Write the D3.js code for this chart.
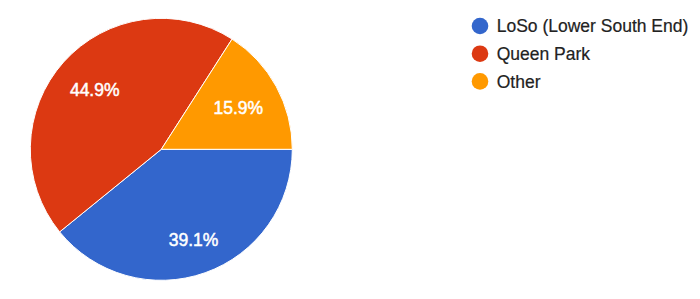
<!DOCTYPE html>
<html>
<head>
<meta charset="utf-8">
<script src="https://cdn.jsdelivr.net/npm/d3@7"></script>
<style>
  html, body { margin: 0; padding: 0; background: #fff; }
  svg { display: block; }
</style>
</head>
<body>
<svg id="chart" width="700" height="299"></svg>
<script>
const categories = ["LoSo (Lower South End)", "Queen Park", "Other"];
const values = [39.1, 44.9, 15.9];
const colors = ["#3366cc", "#dc3912", "#ff9900"];

const W = 700, H = 299;
const cx = 161.3, cy = 149.3, R = 131;
const fontFamily = "Arial, 'Liberation Sans', sans-serif";
const fontSize = 17.5;

const svg = d3.select("#chart");

const pie = d3.pie()
  .sort(null)
  .value(d => d)
  .startAngle(Math.PI / 2)
  .endAngle(Math.PI / 2 + 2 * Math.PI);

const arcs = pie(values);
const arc = d3.arc().innerRadius(0).outerRadius(R);
const color = d3.scaleOrdinal().domain(categories).range(colors);

const g = svg.append("g").attr("transform", `translate(${cx},${cy})`);

g.selectAll("path.slice")
  .data(arcs)
  .join("path")
  .attr("class", "slice")
  .attr("d", arc)
  .attr("fill", (d, i) => color(categories[i]))
  .attr("stroke", "#fff")
  .attr("stroke-width", 1);

// Labels: pushed outward so farthest corner of the text box touches K
const K = R * 0.86;
const labels = g.selectAll("text.pct")
  .data(arcs)
  .join("text")
  .attr("class", "pct")
  .attr("font-family", fontFamily)
  .attr("font-size", fontSize)
  .attr("fill", "#fff")
  .attr("stroke", "#fff")
  .attr("stroke-width", 0.5)
  .attr("text-anchor", "middle")
  .text(d => d.data.toFixed(1) + "%");

labels.each(function(d) {
  const w = this.getComputedTextLength();
  const h = fontSize * 0.72;
  const a = (d.startAngle + d.endAngle) / 2;
  const ux = Math.sin(a), uy = -Math.cos(a);
  const sx = Math.sign(ux) || 1, sy = Math.sign(uy) || 1;
  const b = ux * sx * w + uy * sy * h;
  const c = (w * w + h * h) / 4 - K * K;
  const dd = (-b + Math.sqrt(b * b - 4 * c)) / 2;
  const x = dd * ux, y = dd * uy;
  d3.select(this).attr("x", x).attr("y", y + h / 2);
});

// Legend
const legend = svg.append("g").attr("transform", "translate(480,26)");
const rowH = 27.7;
const items = legend.selectAll("g.item")
  .data(categories)
  .join("g")
  .attr("class", "item")
  .attr("transform", (d, i) => `translate(0,${i * rowH})`);

items.append("circle")
  .attr("r", 8.3)
  .attr("fill", d => color(d));

items.append("text")
  .attr("x", 16.7)
  .attr("y", fontSize * 0.36)
  .attr("font-family", fontFamily)
  .attr("font-size", fontSize)
  .attr("fill", "#222")
  .attr("stroke", "#222")
  .attr("stroke-width", 0.2)
  .text(d => d);
</script>
</body>
</html>
